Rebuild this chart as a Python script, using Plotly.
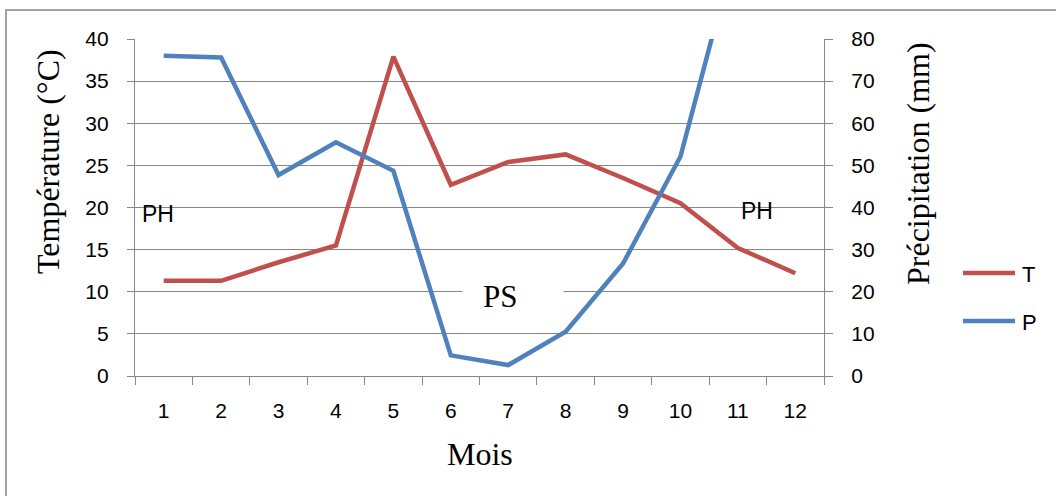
import plotly.graph_objects as go

# Monthly climate values
mois = ["1", "2", "3", "4", "5", "6", "7", "8", "9", "10", "11", "12"]
temperature = [11.3, 11.3, 13.5, 15.5, 37.9, 22.7, 25.4, 26.3, 23.5, 20.5, 15.2, 12.2]
precipitation = [76.0, 75.6, 47.7, 55.5, 48.7, 4.9, 2.6, 10.5, 26.7, 52.1, 103.5, 98.0]

RED = "#C0504D"
BLUE = "#4F81BD"
GRID = "#868686"
SANS = "Liberation Sans"
SERIF = "Liberation Serif"

W, H = 1056, 496
L, R, T, B = 135, 232, 39, 120
PW, PH = W - L - R, H - T - B


def px(x):
    return (x - L) / PW


def py(y):
    return (H - B - y) / PH


fig = go.Figure()
fig.add_trace(go.Scatter(x=mois, y=temperature, name="T", mode="lines",
                         line=dict(color=RED, width=4.5), yaxis="y"))
fig.add_trace(go.Scatter(x=mois, y=precipitation, name="P", mode="lines",
                         line=dict(color=BLUE, width=4.5), yaxis="y2"))

tickfont = dict(family=SANS, size=21, color="black")

fig.update_layout(
    width=W, height=H,
    margin=dict(l=L, r=R, t=T, b=B, pad=0),
    paper_bgcolor="white", plot_bgcolor="white",
    showlegend=False,
    xaxis=dict(type="category", tickson="boundaries", ticks="outside", ticklen=8,
               tickcolor=GRID, tickwidth=1.3, showline=True, linecolor=GRID,
               linewidth=1.3, showgrid=False, tickfont=tickfont,
               ticklabelstandoff=16, range=[-0.5, 11.5], fixedrange=True),
    yaxis=dict(range=[0, 40], dtick=5, ticks="outside", ticklen=7, tickcolor=GRID,
               tickwidth=1.3, showline=True, linecolor=GRID, linewidth=1.3,
               showgrid=True, gridcolor=GRID, gridwidth=1.3, zeroline=False,
               tickfont=tickfont, ticklabelstandoff=14),
    yaxis2=dict(range=[0, 80], dtick=10, overlaying="y", side="right",
                ticks="outside", ticklen=8, tickcolor=GRID, tickwidth=1.3,
                showline=True, linecolor=GRID, linewidth=1.3, showgrid=False,
                zeroline=False, tickfont=tickfont, ticklabelstandoff=14),
)

annotations = [
    dict(text="Température (°C)", x=px(48), y=py(162), textangle=-90,
         font=dict(family=SERIF, size=32, color="black")),
    dict(text="Précipitation (mm)", x=px(918), y=py(164), textangle=-90,
         font=dict(family=SERIF, size=32, color="black")),
    dict(text="Mois", x=px(480), y=py(454),
         font=dict(family=SERIF, size=32, color="black")),
    dict(text="PH", x=px(158), y=py(214),
         font=dict(family=SANS, size=23, color="black")),
    dict(text="PH", x=px(757), y=py(211),
         font=dict(family=SANS, size=23, color="black")),
    # white label box that interrupts the gridline behind "PS"
    dict(text=" ", x=px(513), y=py(296), width=96, height=30, bgcolor="white",
         borderpad=2, font=dict(family=SERIF, size=20, color="black")),
    dict(text="PS", x=px(500), y=py(296),
         font=dict(family=SERIF, size=31, color="black")),
    dict(text="T", x=px(1020), y=py(274), xanchor="left",
         font=dict(family=SANS, size=22, color="black")),
    dict(text="P", x=px(1020), y=py(322), xanchor="left",
         font=dict(family=SANS, size=22, color="black")),
]
for a in annotations:
    a.setdefault("xanchor", "center")
    fig.add_annotation(xref="paper", yref="paper", yanchor="middle",
                       showarrow=False, **a)

# Outer chart frame and legend keys
fig.add_shape(type="rect", xref="paper", yref="paper",
              x0=px(6), x1=px(1070), y0=py(10), y1=py(510),
              line=dict(color=GRID, width=1.5), layer="below")
fig.add_shape(type="line", xref="paper", yref="paper",
              x0=px(963), x1=px(1015), y0=py(273), y1=py(273),
              line=dict(color=RED, width=4.5))
fig.add_shape(type="line", xref="paper", yref="paper",
              x0=px(963), x1=px(1015), y0=py(321), y1=py(321),
              line=dict(color=BLUE, width=4.5))

fig.write_html("out.html")
